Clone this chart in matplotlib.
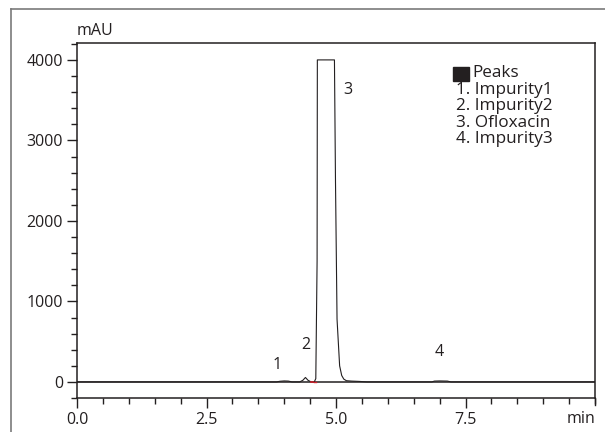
import matplotlib
matplotlib.use("Agg")
import matplotlib.pyplot as plt
from matplotlib.patches import Rectangle
from matplotlib.lines import Line2D
from matplotlib.ticker import MultipleLocator

plt.rcParams['font.family'] = ['Open Sans', 'DejaVu Sans']

# chromatogram trace (min, mAU); peak 3 is clipped at 4000
time = [0.0, 3.85, 3.92, 4.0, 4.08, 4.15, 4.30, 4.36, 4.41, 4.46, 4.52,
        4.58, 4.61, 4.635, 4.64, 4.97, 4.99, 5.02, 5.07, 5.11, 5.15, 5.20,
        5.30, 5.45, 5.6, 6.85, 6.9, 7.0, 7.15, 7.22, 10.0]
signal = [0, 0, 8, 12, 10, 0, 0, 20, 55, 20, 0,
          0, 40, 1500, 4000, 4000, 2500, 780, 200, 80, 35, 15,
          10, 6, 0, 0, 10, 12, 10, 0, 0]

peak_labels = ['1', '2', '3', '4']
label_x = [3.87, 4.41, 5.23, 7.0]
label_y = [205, 460, 3620, 375]

legend_title = 'Peaks'
legend_items = ['1. Impurity1', '2. Impurity2', '3. Ofloxacin', '4. Impurity3']

ink = '#231f20'

fig = plt.figure(figsize=(6.05, 4.32), dpi=100)
ax = fig.add_axes([77/605, 34/432, 518/605, 355/432])

ax.plot(time, signal, color=ink, lw=0.8)
ax.axhline(0, color=ink, lw=1.1, zorder=1)
# small red baseline marks
ax.plot([4.52, 4.56], [0, 0], color='#d0202a', lw=1.2)
ax.plot([4.58, 4.61], [0, 0], color='#d0202a', lw=1.0)

for s, x, y in zip(peak_labels, label_x, label_y):
    ax.text(x, y, s, ha='center', va='center', fontsize=11.5, color=ink)

ax.set_xlim(0, 10)
ax.set_ylim(-200, 4210)
ax.xaxis.set_minor_locator(MultipleLocator(0.5))
ax.yaxis.set_minor_locator(MultipleLocator(200))
ax.set_xticks([0, 2.5, 5, 7.5])
ax.set_xticklabels(['0.0', '2.5', '5.0', '7.5'])
ax.set_yticks([0, 1000, 2000, 3000, 4000])
ax.tick_params(which='major', length=7, width=1, color=ink, labelsize=11.5,
               labelcolor=ink, pad=3)
ax.tick_params(which='minor', length=4, width=1, color=ink)
for sp in ax.spines.values():
    sp.set_color(ink)
    sp.set_linewidth(1.1)

ax.text(0, 1.012, 'mAU', transform=ax.transAxes, ha='left', va='bottom',
        fontsize=11.5, color=ink)
ax.text(1.0, -0.037, 'min', transform=ax.transAxes, ha='right', va='top',
        fontsize=11.5, color=ink)
ax.plot([1, 1], [0, -0.02], transform=ax.transAxes, color=ink, lw=1,
        clip_on=False)

# legend block
fig.patches.append(Rectangle((453/605, 1 - 81/432), 16/605, 14/432,
                             transform=fig.transFigure, color='#231f20'))
fig.text(472/605, 1 - 73/432, legend_title, ha='left', va='center',
         fontsize=12.3, color=ink)
for i, item in enumerate(legend_items):
    fig.text(456/605, 1 - (90 + 16.3*i)/432, item, ha='left', va='center',
             fontsize=12.3, color=ink)

# outer frame
fig.add_artist(Line2D([11/605, 11/605], [0, 1 - 9/432],
                      transform=fig.transFigure, color='#7a7a7a', lw=1.2))
fig.add_artist(Line2D([11/605, 1], [1 - 9/432, 1 - 9/432],
                      transform=fig.transFigure, color='#7a7a7a', lw=1.2))

fig.savefig('out.png', dpi=100)
